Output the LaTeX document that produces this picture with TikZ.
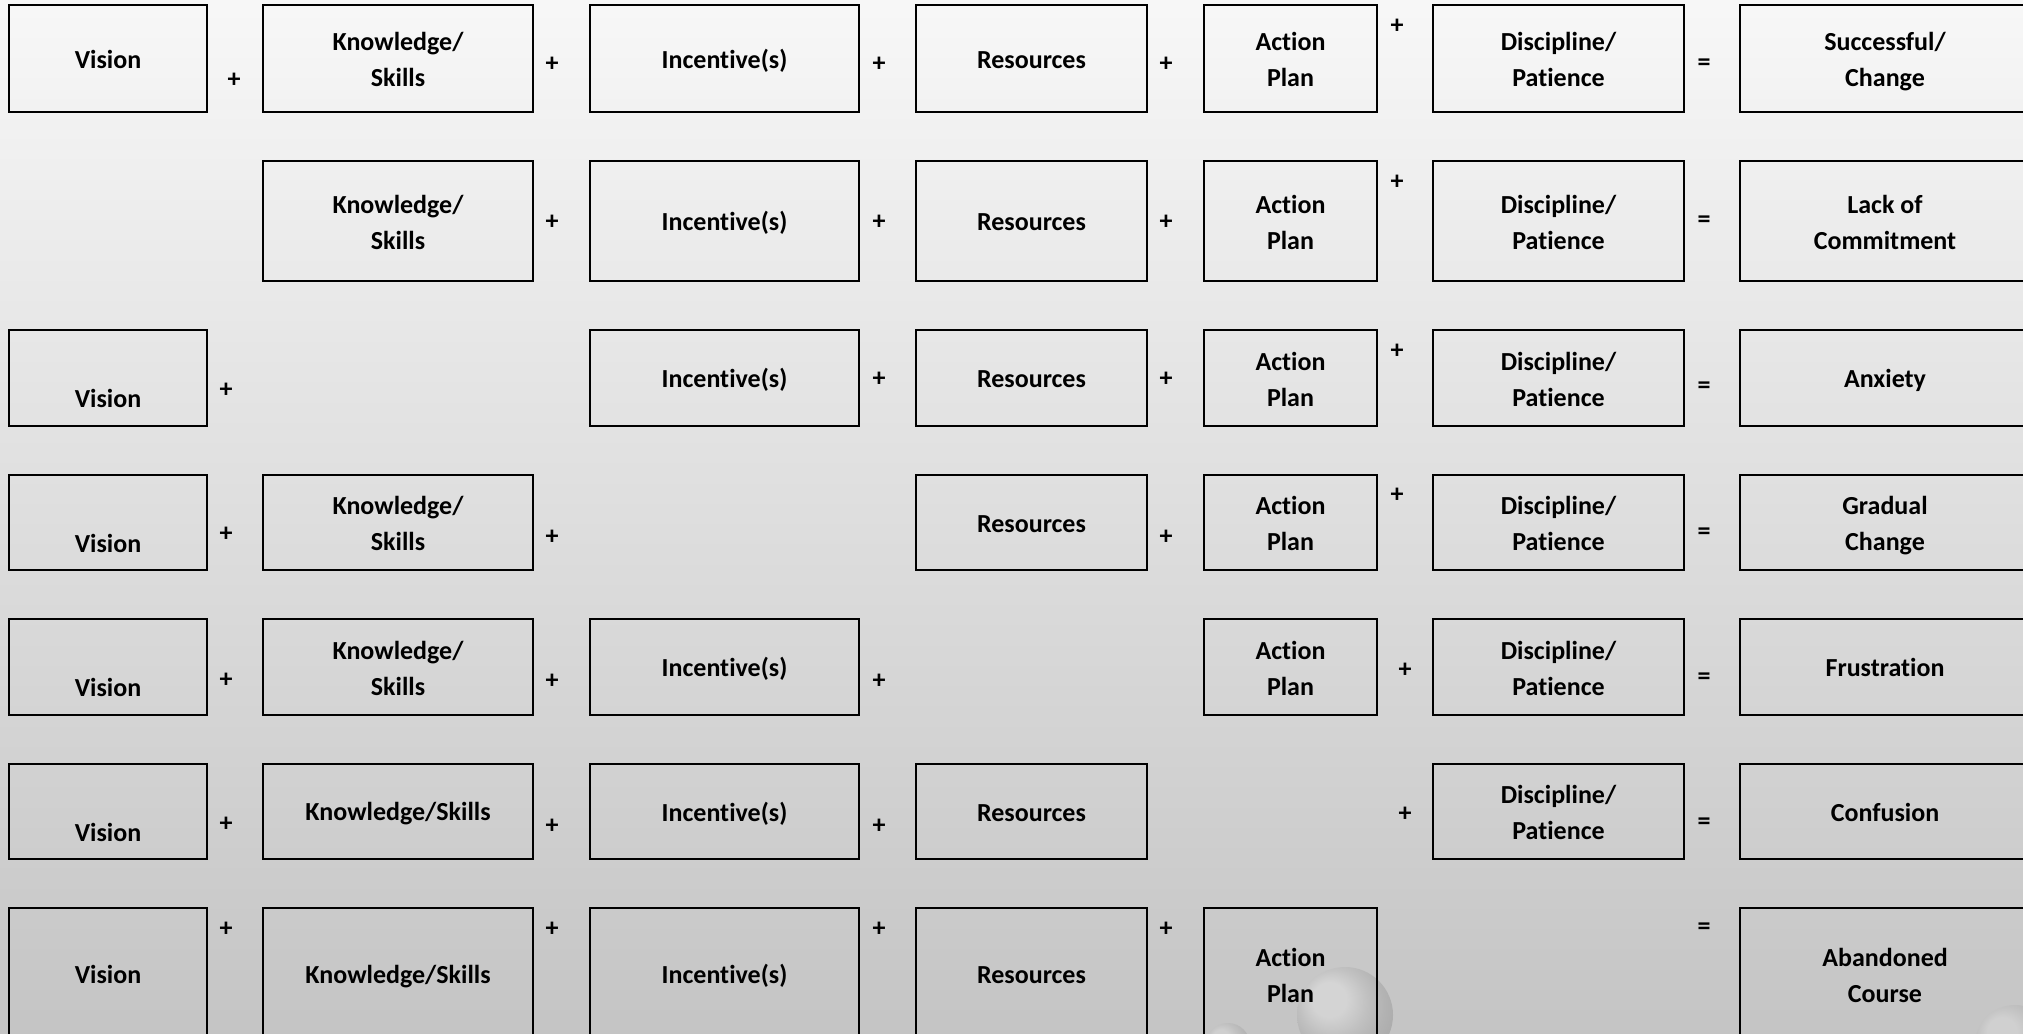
\documentclass[tikz,border=0pt]{standalone}
\usepackage{fontspec}
\setmainfont{Carlito}[Ligatures=NoCommon]
\newcommand{\boxstrut}{\rule[-2pt]{0pt}{13.5pt}}

\begin{document}
\begin{tikzpicture}[x=0.5pt, y=-0.5pt,
    every node/.style={font=\bfseries\fontsize{13}{18}\selectfont},
    box/.style={draw, line width=1.35pt, align=center, inner sep=0pt,
      execute at begin node=\boxstrut, execute at end node=\boxstrut},
    two/.style={text height=28pt, text depth=0pt},
    op/.style={inner sep=0pt},
    lowtext/.style={yshift=-10.3pt},
    % column widths
    cvis/.style={minimum width=99pt},
    cknow/.style={minimum width=135pt},
    cinc/.style={minimum width=134.5pt},
    cres/.style={minimum width=115.5pt},
    cact/.style={minimum width=86.5pt},
    cdisc/.style={minimum width=125.5pt},
    cout/.style={minimum width=145pt},
    % row heights
    ra/.style={minimum height=53.5pt},
    rb/.style={minimum height=60pt},
    rc/.style={minimum height=48pt},
    rd/.style={minimum height=47.5pt},
    re/.style={minimum height=66pt}]
    % Background
    \useasboundingbox (0,0) rectangle (2023,1033);
    \clip (0,0) rectangle (2023,1033);
    \shade[top color=black!3, middle color=black!10, bottom color=black!23] (0,0) rectangle (2023,1033);
    \shade[ball color=white, opacity=0.25] (1345,1015) circle (48);
    \shade[ball color=white, opacity=0.2] (1228,1045) circle (22);
    \shade[ball color=white, opacity=0.2] (2015,1045) circle (40);

    % Row 1
    \node[box, cvis, ra] (vis1) at (108,58.5) {Vision};
    \node[op] (o1a) at (234,80) {+};
    \node[box, two, cknow, ra] (know1) at (398,58.5) {Knowledge/\\Skills};
    \node[op] (o1b) at (552,64.5) {+};
    \node[box, cinc, ra] (inc1) at (724.5,58.5) {Incentive(s)};
    \node[op] (o1c) at (879,64.5) {+};
    \node[box, cres, ra] (res1) at (1031.5,58.5) {Resources};
    \node[op] (o1d) at (1166,64.5) {+};
    \node[box, two, cact, ra] (act1) at (1290.5,58.5) {Action\\Plan};
    \node[op] (o1e) at (1397,26) {+};
    \node[box, two, cdisc, ra] (disc1) at (1558.5,58.5) {Discipline/\\Patience};
    \node[op] (o1f) at (1704,64.5) {=};
    \node[box, two, cout, ra] (out1) at (1885,58.5) {Successful/\\Change};

    % Row 2
    \node[box, two, cknow, rb] (know2) at (398,221) {Knowledge/\\Skills};
    \node[op] (o2b) at (552,222) {+};
    \node[box, cinc, rb] (inc2) at (724.5,221) {Incentive(s)};
    \node[op] (o2c) at (879,222) {+};
    \node[box, cres, rb] (res2) at (1031.5,221) {Resources};
    \node[op] (o2d) at (1166,222) {+};
    \node[box, two, cact, rb] (act2) at (1290.5,221) {Action\\Plan};
    \node[op] (o2e) at (1397,182) {+};
    \node[box, two, cdisc, rb] (disc2) at (1558.5,221) {Discipline/\\Patience};
    \node[op] (o2f) at (1704,222) {=};
    \node[box, two, cout, rb] (out2) at (1885,221) {Lack of\\Commitment};

    % Row 3
    \node[box, cvis, rc, label={[lowtext]center:Vision}] (vis3) at (108,378) {};
    \node[op] (o3a) at (226,390) {+};
    \node[box, cinc, rc] (inc3) at (724.5,378) {Incentive(s)};
    \node[op] (o3c) at (879,379) {+};
    \node[box, cres, rc] (res3) at (1031.5,378) {Resources};
    \node[op] (o3d) at (1166,379) {+};
    \node[box, two, cact, rc] (act3) at (1290.5,378) {Action\\Plan};
    \node[op] (o3e) at (1397,351) {+};
    \node[box, two, cdisc, rc] (disc3) at (1558.5,378) {Discipline/\\Patience};
    \node[op] (o3f) at (1704,388) {=};
    \node[box, cout, rc] (out3) at (1885,378) {Anxiety};

    % Row 4
    \node[box, cvis, rd, label={[lowtext]center:Vision}] (vis4) at (108,522.5) {};
    \node[op] (o4a) at (226,534) {+};
    \node[box, two, cknow, rd] (know4) at (398,522.5) {Knowledge/\\Skills};
    \node[op] (o4b) at (552,537) {+};
    \node[box, cres, rd] (res4) at (1031.5,522.5) {Resources};
    \node[op] (o4d) at (1166,537) {+};
    \node[box, two, cact, rd] (act4) at (1290.5,522.5) {Action\\Plan};
    \node[op] (o4e) at (1397,495) {+};
    \node[box, two, cdisc, rd] (disc4) at (1558.5,522.5) {Discipline/\\Patience};
    \node[op] (o4f) at (1704,534) {=};
    \node[box, two, cout, rd] (out4) at (1885,522.5) {Gradual\\Change};

    % Row 5
    \node[box, cvis, rc, label={[lowtext]center:Vision}] (vis5) at (108,667) {};
    \node[op] (o5a) at (226,680) {+};
    \node[box, two, cknow, rc] (know5) at (398,667) {Knowledge/\\Skills};
    \node[op] (o5b) at (552,681) {+};
    \node[box, cinc, rc] (inc5) at (724.5,667) {Incentive(s)};
    \node[op] (o5c) at (879,681) {+};
    \node[box, two, cact, rc] (act5) at (1290.5,667) {Action\\Plan};
    \node[op] (o5e) at (1405,670) {+};
    \node[box, two, cdisc, rc] (disc5) at (1558.5,667) {Discipline/\\Patience};
    \node[op] (o5f) at (1704,679) {=};
    \node[box, cout, rc] (out5) at (1885,667) {Frustration};

    % Row 6
    \node[box, cvis, rd, label={[lowtext]center:Vision}] (vis6) at (108,811.5) {};
    \node[op] (o6a) at (226,824) {+};
    \node[box, cknow, rd] (know6) at (398,811.5) {Knowledge/Skills};
    \node[op] (o6b) at (552,826) {+};
    \node[box, cinc, rd] (inc6) at (724.5,811.5) {Incentive(s)};
    \node[op] (o6c) at (879,826) {+};
    \node[box, cres, rd] (res6) at (1031.5,811.5) {Resources};
    \node[op] (o6e) at (1405,814) {+};
    \node[box, two, cdisc, rd] (disc6) at (1558.5,811.5) {Discipline/\\Patience};
    \node[op] (o6f) at (1704,824) {=};
    \node[box, cout, rd] (out6) at (1885,811.5) {Confusion};

    % Row 7
    \node[box, cvis, re] (vis7) at (108,974) {Vision};
    \node[op] (o7a) at (226,929) {+};
    \node[box, cknow, re] (know7) at (398,974) {Knowledge/Skills};
    \node[op] (o7b) at (552,929) {+};
    \node[box, cinc, re] (inc7) at (724.5,974) {Incentive(s)};
    \node[op] (o7c) at (879,929) {+};
    \node[box, cres, re] (res7) at (1031.5,974) {Resources};
    \node[op] (o7d) at (1166,929) {+};
    \node[box, two, cact, re] (act7) at (1290.5,974) {Action\\Plan};
    \node[op] (o7f) at (1704,929) {=};
    \node[box, two, cout, re] (out7) at (1885,974) {Abandoned\\Course};
\end{tikzpicture}
\end{document}
